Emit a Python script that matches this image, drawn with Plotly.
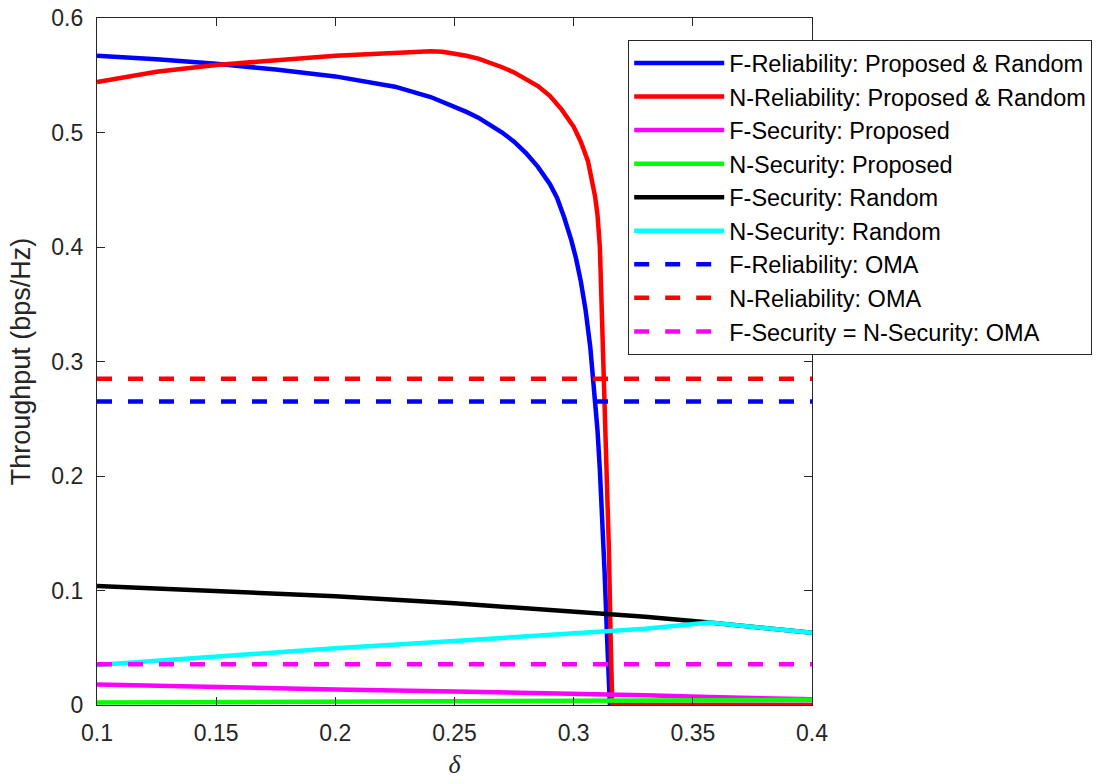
import plotly.graph_objects as go

# ---- data ----
x_f_rel = [0.100, 0.125, 0.150, 0.175, 0.200, 0.225, 0.240, 0.250, 0.255, 0.260, 0.265, 0.270,
           0.275, 0.280, 0.285, 0.290, 0.293, 0.296, 0.299, 0.301, 0.303, 0.305, 0.307, 0.309,
           0.310, 0.311, 0.312, 0.313, 0.314, 0.3148, 0.3152, 0.400]
y_f_rel = [0.567, 0.564, 0.560, 0.555, 0.549, 0.540, 0.531, 0.523, 0.518, 0.513, 0.507, 0.500,
           0.492, 0.482, 0.470, 0.455, 0.443, 0.426, 0.406, 0.390, 0.370, 0.345, 0.312, 0.268,
           0.240, 0.205, 0.165, 0.115, 0.060, 0.015, 0.0, 0.0]

x_n_rel = [0.100, 0.125, 0.150, 0.175, 0.200, 0.220, 0.240, 0.245, 0.250, 0.255, 0.260, 0.265,
           0.270, 0.275, 0.280, 0.285, 0.290, 0.295, 0.300, 0.303, 0.306, 0.308, 0.309, 0.310,
           0.311, 0.312, 0.313, 0.314, 0.3148, 0.3155, 0.3162, 0.400]
y_n_rel = [0.544, 0.553, 0.559, 0.563, 0.567, 0.569, 0.571, 0.5705, 0.569, 0.567, 0.5645, 0.561,
           0.557, 0.5525, 0.547, 0.5405, 0.532, 0.520, 0.505, 0.492, 0.475, 0.456, 0.444, 0.428,
           0.400, 0.330, 0.270, 0.190, 0.135, 0.060, 0.0, 0.0]

x_sec = [0.100, 0.150, 0.200, 0.250, 0.300, 0.330, 0.357, 0.380, 0.400]
y_f_sec_prop = [0.018, 0.0155, 0.0135, 0.0118, 0.0102, 0.0085, 0.007, 0.0058, 0.005]
y_n_sec_prop = [0.0022, 0.0025, 0.0028, 0.0032, 0.0036, 0.0039, 0.0042, 0.0044, 0.0045]
y_f_sec_rand = [0.104, 0.0995, 0.095, 0.0888, 0.0815, 0.0770, 0.0720, 0.0675, 0.0630]
y_n_sec_rand = [0.035, 0.0425, 0.0495, 0.0560, 0.0625, 0.0665, 0.0720, 0.0675, 0.0630]

x_oma = [0.1, 0.4]
f_rel_oma = 0.265
n_rel_oma = 0.285
sec_oma = 0.0355

x_ticks = [0.1, 0.15, 0.2, 0.25, 0.3, 0.35, 0.4]
x_tick_text = ["0.1", "0.15", "0.2", "0.25", "0.3", "0.35", "0.4"]
y_ticks = [0, 0.1, 0.2, 0.3, 0.4, 0.5, 0.6]
y_tick_text = ["0", "0.1", "0.2", "0.3", "0.4", "0.5", "0.6"]

# ---- figure ----
fig = go.Figure()
LW = 4.5
DASH = "15px,16px"

def add(x, y, name, color, dash="solid"):
    fig.add_trace(go.Scatter(x=x, y=y, mode="lines", name=name,
                             line=dict(color=color, width=LW, dash=dash),
                             legendgroup=name))

add(x_f_rel, y_f_rel, "F-Reliability: Proposed & Random", "#0000FF")
add(x_n_rel, y_n_rel, "N-Reliability: Proposed & Random", "#FF0000")
add(x_sec, y_f_sec_prop, "F-Security: Proposed", "#FF00FF")
add(x_sec, y_n_sec_prop, "N-Security: Proposed", "#00FF00")
add(x_sec, y_f_sec_rand, "F-Security: Random", "#000000")
add(x_sec, y_n_sec_rand, "N-Security: Random", "#00FFFF")
add(x_oma, [f_rel_oma] * 2, "F-Reliability: OMA", "#0000FF", DASH)
add(x_oma, [n_rel_oma] * 2, "N-Reliability: OMA", "#FF0000", DASH)
add(x_oma, [sec_oma] * 2, "F-Security = N-Security: OMA", "#FF00FF", DASH)

axis_common = dict(
    showgrid=False, zeroline=False, showline=True, linecolor="#262626", linewidth=1.2,
    mirror="ticks", ticks="inside", ticklen=8, tickwidth=1.2, tickcolor="#262626",
    tickfont=dict(family="Liberation Sans, Arial", size=23, color="#262626"),
)

fig.update_xaxes(range=[0.1, 0.4], tickvals=x_ticks, ticktext=x_tick_text,
                 ticklabelstandoff=7,
                 title=dict(text="<i>δ</i>", font=dict(family="Liberation Serif, DejaVu Serif", size=26, color="#262626"),
                            standoff=10),
                 **axis_common)
fig.update_yaxes(range=[0, 0.6], tickvals=y_ticks, ticktext=y_tick_text,
                 ticklabelstandoff=8,
                 title=dict(text="Throughput (bps/Hz)", font=dict(family="Liberation Sans, Arial", size=27, color="#262626"),
                            standoff=12),
                 **axis_common)

fig.update_layout(
    width=1097, height=784,
    margin=dict(l=97, r=285, t=18, b=79, autoexpand=False),
    plot_bgcolor="white", paper_bgcolor="white",
    showlegend=True,
    legend=dict(
        x=(628 - 97) / 715, y=1 - (40 - 18) / 687, xanchor="left", yanchor="top",
        bgcolor="white", bordercolor="#262626", borderwidth=1.2,
        font=dict(family="Liberation Sans, Arial", size=23.5, color="#000000"),
        itemwidth=90, tracegroupgap=0,
    ),
)

fig.write_html("out.html")
